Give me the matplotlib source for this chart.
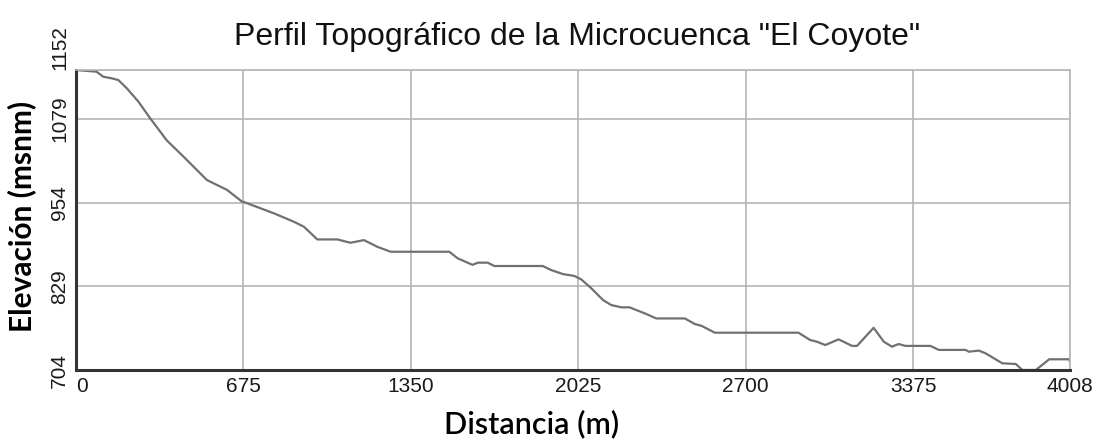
import numpy as np
import matplotlib
matplotlib.use('Agg')
from matplotlib import pyplot as plt

# perfil (distancia m, elevacion msnm)
distancia = [0, 83, 110, 144, 171, 205, 252, 299, 366, 434, 528, 609, 670,
             676, 798, 878, 919, 973, 1054, 1107, 1161, 1215, 1269,
             1505, 1539, 1599, 1620, 1660, 1687, 1882, 1916, 1963, 2010,
             2037, 2078, 2125, 2158, 2199, 2232, 2293, 2340, 2455, 2495,
             2522, 2576, 2913, 2960, 2987, 3021, 3075, 3129, 3149, 3216,
             3257, 3290, 3317, 3344, 3445, 3479, 3587, 3600, 3640, 3667,
             3735, 3789, 3816, 3870, 3924, 4005, 4008]
elevacion = [1152, 1149.5, 1142, 1139.6, 1137, 1124.7, 1104.7, 1080, 1047,
             1022.5, 987.7, 973, 955.3,
             955, 938, 925.5, 918, 899, 899, 894, 898, 888, 880.6,
             880.6, 870.8, 861, 864.3, 864.3, 859.3, 859.3, 853.3, 847.3,
             844.4, 839.4, 826, 808.5, 801, 797.6, 797.6, 788.6, 781, 781,
             772.7, 770, 759.7, 759.7, 748.8, 746.3, 741.3, 749.8, 740, 740,
             767, 746.3, 738.8, 742.8, 740, 740, 734, 734, 731.3, 733, 729,
             714, 713, 704, 704, 720, 720, 716]

x_ticks = [0, 675, 1350, 2025, 2700, 3375, 4008]
y_ticks = [704, 829, 954, 1079, 1152]


def plot_perfil(x, y):
    fig = plt.figure(figsize=(10.93, 4.46), dpi=100)
    ax = fig.add_axes([0.0695, 0.1704, 0.9095, 0.6726])
    ax.plot(np.asarray(x), np.asarray(y), color='#707070', linewidth=1.6)

    ax.set_xlim(0, 4008)
    ax.set_ylim(704, 1152)
    ax.set_xticks(x_ticks)
    ax.set_yticks(y_ticks)
    xl = ax.set_xticklabels([str(t) for t in x_ticks], family='Liberation Sans',
                            fontsize=15, color='#1a1a1a')
    xl[0].set_ha('left')
    yl = ax.set_yticklabels([str(t) for t in y_ticks], family='Liberation Sans',
                            fontsize=15, color='#1a1a1a', rotation=90,
                            va='center')
    yl[-1].set_va('bottom')
    ax.tick_params(length=0, pad=5)
    ax.grid(True, color='#b5b5b5', linewidth=1.2)

    for side in ['top', 'right']:
        ax.spines[side].set_color('#b5b5b5')
        ax.spines[side].set_linewidth(1.2)
    for side in ['left', 'bottom']:
        ax.spines[side].set_color('#333333')
        ax.spines[side].set_linewidth(2.2)

    fig.text(0.528, 0.917, 'Perfil Topográfico de la Microcuenca "El Coyote"',
             ha='center', va='center', family='Liberation Sans', fontsize=23,
             color='#111111')
    ax.set_xlabel('Distancia (m)', family='Lato', fontsize=22,
                  fontweight='semibold')
    ax.xaxis.set_label_coords(0.458, -0.13)
    ax.set_ylabel('Elevación (msnm)', family='Lato', fontsize=21.5,
                  fontweight='bold')
    ax.yaxis.set_label_coords(-0.04, 0.513)
    fig.savefig('out.png', dpi=100)


if __name__ == '__main__':
    plot_perfil(distancia, elevacion)
